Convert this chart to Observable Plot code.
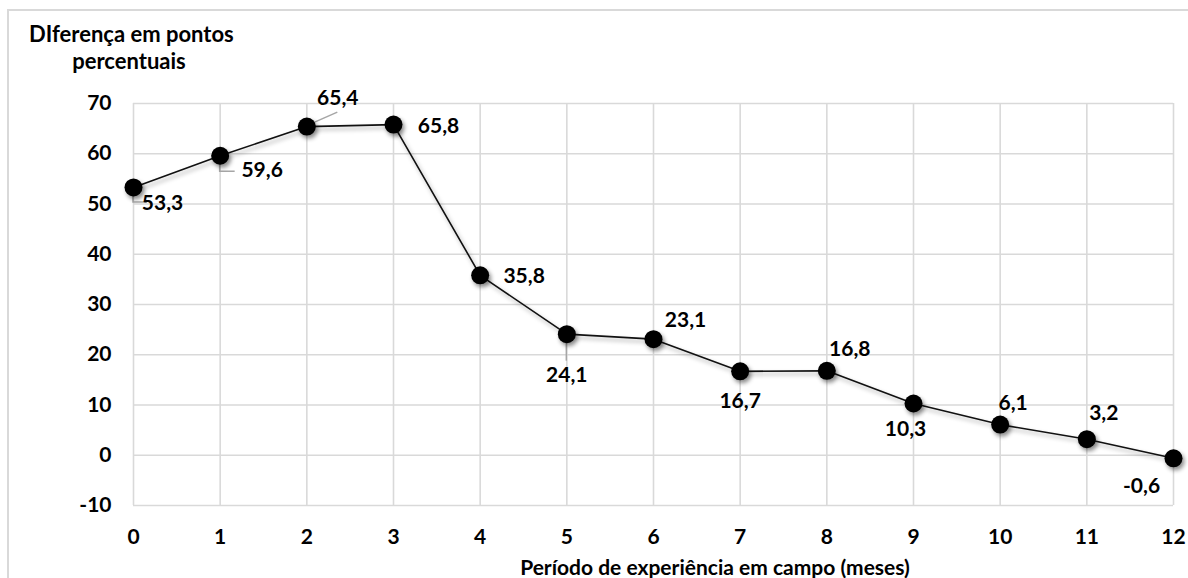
<!DOCTYPE html>
<html>
<head>
<meta charset="utf-8">
<script src="https://cdn.jsdelivr.net/npm/d3@7"></script>
<script src="https://cdn.jsdelivr.net/npm/@observablehq/plot@0.6"></script>
<style>
  html, body { margin: 0; padding: 0; background: #fff; overflow: hidden; }
  #wrap { position: relative; width: 1188px; height: 578px; font-family: Lato, "Open Sans", sans-serif; font-weight: 700; color: #000; }
  #frame { position: absolute; left: 7px; top: 9px; width: 1400px; height: 800px; border-left: 2px solid #d9d9d9; border-top: 2px solid #d9d9d9; }
  #chart { position: absolute; left: 0; top: 0; }
  #ytitle { position: absolute; left: 29px; top: 20px; width: 200px; text-align: center; font-size: 22px; line-height: 27px; white-space: nowrap; }
  #xtitle { position: absolute; left: 415px; top: 553px; width: 600px; text-align: center; font-size: 21px; line-height: 27px; white-space: nowrap; }
</style>
</head>
<body>
<div id="wrap">
  <div id="frame"></div>
  <div id="chart"></div>
  <div id="ytitle">DIferença em pontos<br>percentuais</div>
  <div id="xtitle">Período de experiência em campo (meses)</div>
</div>
<script>
// Months of field experience and the difference in percentage points
const months = [0, 1, 2, 3, 4, 5, 6, 7, 8, 9, 10, 11, 12];
const diff = [53.3, 59.6, 65.4, 65.8, 35.8, 24.1, 23.1, 16.7, 16.8, 10.3, 6.1, 3.2, -0.6];
const yTicks = [-10, 0, 10, 20, 30, 40, 50, 60, 70];

// Label placement around each point (pixel offsets of the label centre)
const labelOffset = [
  [29, 16], [42, 15], [31, -28], [45, 2], [44, 1], [0, 41], [32, -19],
  [0, 30], [23, -22], [-8, 26], [13, -21], [17, -26], [-32, 28]
];
// Leader lines joining a label to its point (pixel paths relative to the point)
const leaders = [
  {i: 0, path: [[0, 5], [0, 15], [14, 15]]},
  {i: 1, path: [[0, 8], [0, 16], [15, 16]]},
  {i: 2, path: [[6, -3], [31, -14]]},
  {i: 5, path: [[0, 9], [0, 27]]}
];

const data = months.map((m, i) => ({month: m, value: diff[i]}));
const fmt = v => v.toFixed(1).replace(".", ",");

const gridStyle = {stroke: "#d9d9d9", strokeWidth: 1.6, strokeOpacity: 1};

const chart = Plot.plot({
  width: 1188,
  height: 578,
  marginLeft: 133,
  marginRight: 15,
  marginTop: 103,
  marginBottom: 73,
  style: {fontFamily: "Lato, 'Open Sans', sans-serif", fontSize: "21px", fontWeight: 700, color: "#000", background: "transparent", overflow: "visible"},
  x: {domain: [0, 12]},
  y: {domain: [-10, 70]},
  marks: [
    Plot.gridX(months, gridStyle),
    Plot.gridY(yTicks, gridStyle),
    Plot.axisX(months, {tickSize: 0, tickPadding: 24, tickFormat: d => String(d), label: null, fontSize: 21}),
    Plot.axisY(yTicks, {tickSize: 0, tickPadding: 22, tickFormat: d => String(d), label: null, fontSize: 21}),
    Plot.line(data, {x: "month", y: "value", stroke: "#111", strokeWidth: 1.6}),
    Plot.dot(data, {x: "month", y: "value", r: 9, fill: "#000", stroke: "none"}),
    ...data.map((d, i) => Plot.text([d], {
      x: "month", y: "value", text: d => fmt(d.value),
      dx: labelOffset[i][0], dy: labelOffset[i][1],
      fontSize: 21, fontWeight: 700, fill: "#000"
    }))
  ]
});

document.getElementById("chart").appendChild(chart);

// soft shadow under the line and the markers
const svg = d3.select(chart);
svg.selectAll("g[aria-label='line']").style("filter", "drop-shadow(2px 3px 2px rgba(0,0,0,0.35))");
svg.selectAll("g[aria-label='dot']").style("filter", "drop-shadow(2px 3px 2px rgba(0,0,0,0.45))");

// leader lines drawn from the chart's own scales
const xs = chart.scale("x"), ys = chart.scale("y");
const lg = svg.insert("g", "g[aria-label='dot']").attr("fill", "none").attr("stroke", "#a6a6a6").attr("stroke-width", 1.5);
leaders.forEach(({i, path}) => {
  const px = xs.apply(months[i]), py = ys.apply(diff[i]);
  lg.append("path").attr("d", d3.line()(path.map(([dx, dy]) => [px + dx, py + dy])));
});
</script>
</body>
</html>
